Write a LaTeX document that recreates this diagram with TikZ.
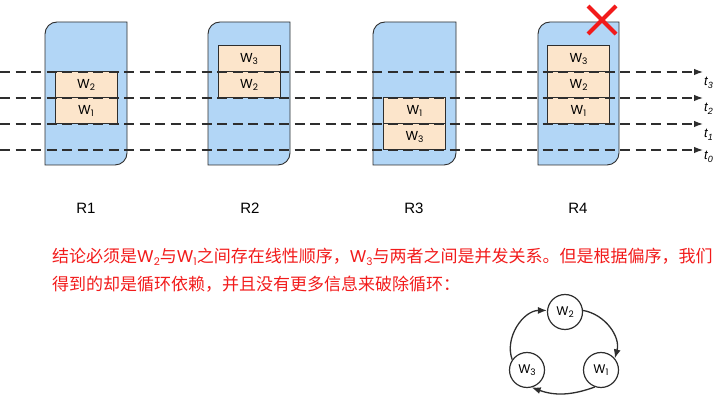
\documentclass[tikz,border=0pt]{standalone}
\usepackage{fontspec}
\setmainfont{Liberation Sans}
\newfontfamily\cjk{Noto Sans CJK SC}
\newfontfamily\wf{Poppins}
\usetikzlibrary{arrows.meta}
\definecolor{rblue}{HTML}{B2D6F6}
\definecolor{wor}{HTML}{FCE5CB}
\definecolor{edge}{HTML}{2E2E2E}
\definecolor{tred}{HTML}{F21B1B}
\newcommand\Wl[1]{{\wf W\raisebox{-0.3ex}{\fontsize{9}{9}\selectfont #1}}}
\newcommand\Wt[1]{{\wf W\raisebox{-0.3ex}{\fontsize{10.5}{10.5}\selectfont #1}}}
\newcommand\tl[1]{{\itshape t\raisebox{-0.4ex}{\fontsize{9}{9}\selectfont #1}}}
\tikzset{
  rbox/.style={fill=rblue, draw=edge, line width=0.9pt},
  wbox/.style={draw=edge, fill=wor, line width=1pt, minimum width=62pt, minimum height=26pt, inner sep=0pt, font=\fontsize{13}{13}\selectfont},
  dline/.style={draw=edge, line width=1.2pt, dash pattern=on 10pt off 5.5pt, -{Latex[length=9pt,width=6.5pt]}},
  rlab/.style={font=\fontsize{15}{15}\selectfont, text=black},
  tlab/.style={font=\fontsize{13}{13}\selectfont, anchor=west, inner sep=0pt},
  gnode/.style={circle, draw=edge, line width=1.2pt, fill=white, minimum size=35pt, inner sep=0pt, font=\fontsize{12.5}{12.5}\selectfont},
  garrow/.style={draw=edge, line width=1.3pt, -{Latex[length=9pt,width=7pt]}},
  ctext/.style={anchor=base west, inner sep=0pt, text=tred, font=\cjk\fontsize{17}{17}\selectfont}
}
\newcommand\Rshape[2]{%
  \path[rbox] (#1,236) -- (#1,367) arc[start angle=180,end angle=90,radius=12pt] -- (#2,379) -- (#2,248) arc[start angle=0,end angle=-90,radius=12pt] -- cycle;}
\begin{document}
\begin{tikzpicture}[x=1pt,y=1pt]
\useasboundingbox (0,0) rectangle (720,401);
% R containers
\Rshape{45}{127}
\Rshape{208}{290}
\Rshape{373}{456}
\Rshape{538}{619}
% W boxes
\node[wbox] (r1w2) at (86,316) {\Wl{2}};
\node[wbox] (r1w1) at (86,290) {\Wl{1}};
\node[wbox] (r2w3) at (249,342) {\Wl{3}};
\node[wbox] (r2w2) at (249,316) {\Wl{2}};
\node[wbox] (r3w1) at (414.5,290) {\Wl{1}};
\node[wbox] (r3w3) at (414.5,264) {\Wl{3}};
\node[wbox] (r4w3) at (578.5,342) {\Wl{3}};
\node[wbox] (r4w2) at (578.5,316) {\Wl{2}};
\node[wbox] (r4w1) at (578.5,290) {\Wl{1}};
% time lines
\coordinate (s3) at (0,329); \coordinate (e3) at (703,329);
\coordinate (s2) at (0,303); \coordinate (e2) at (703,303);
\coordinate (s1) at (0,277); \coordinate (e1) at (703,277);
\coordinate (s0) at (0,251); \coordinate (e0) at (703,251);
\draw[dline] (s3) -- (e3);
\draw[dline] (s2) -- (e2);
\draw[dline] (s1) -- (e1);
\draw[dline] (s0) -- (e0);
\node[tlab] (t3) at (704,318) {\tl{3}};
\node[tlab] (t2) at (704,292) {\tl{2}};
\node[tlab] (t1) at (704,266) {\tl{1}};
\node[tlab] (t0) at (704,244) {\tl{0}};
% red cross
\draw[tred, line width=4pt] (588,395) -- (616,367);
\draw[tred, line width=4pt] (588,367) -- (616,395);
% R labels
\node[rlab] (R1) at (86,193) {R1};
\node[rlab] (R2) at (250,193) {R2};
\node[rlab] (R3) at (414,193) {R3};
\node[rlab] (R4) at (578,193) {R4};
% text
\node[ctext] (txt1) at (52,138) {结论必须是\Wt{2}与\Wt{1}之间存在线性顺序，\Wt{3}与两者之间是并发关系。但是根据偏序，我们};
\node[ctext] (txt2) at (52,110) {得到的却是循环依赖，并且没有更多信息来破除循环：};
% graph
\node[gnode] (g2) at (565,89) {\Wl{2}};
\node[gnode] (g3) at (527,31) {\Wl{3}};
\node[gnode] (g1) at (601,31) {\Wl{1}};
\draw[garrow] (g2.5) to[out=-10,in=75] (g1.40);
\draw[garrow] (g1.-110) to[out=-160,in=-20] (g3.-75);
\draw[garrow] (g3.145) to[out=110,in=180] (g2.175);
\end{tikzpicture}
\end{document}
